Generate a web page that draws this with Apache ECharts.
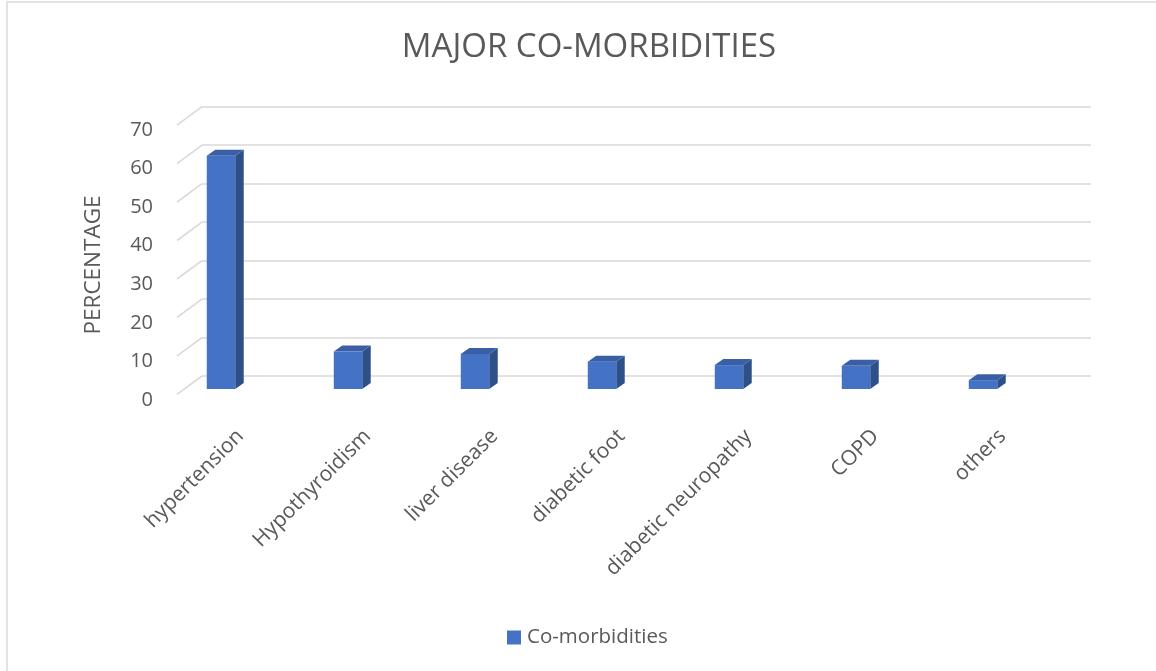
<!DOCTYPE html>
<html>
<head>
<meta charset="utf-8">
<script src="https://cdn.jsdelivr.net/npm/echarts@6/dist/echarts.min.js"></script>
<style>html,body{margin:0;padding:0;background:#fff}#c{width:1156px;height:671px}</style>
</head>
<body>
<div id="c"></div>
<script>
// ---- data ----
const categories = ['hypertension', 'Hypothyroidism', 'liver disease', 'diabetic foot', 'diabetic neuropathy', 'COPD', 'others'];
const values = [60.5, 9.7, 9.1, 7.1, 6.2, 6.0, 2.3];
const seriesName = 'Co-morbidities';
const yMin = 0, yMax = 70, yStep = 10;
const titleText = 'MAJOR CO-MORBIDITIES';
const yAxisTitle = 'PERCENTAGE';

// ---- style ----
const TXT = '#595959';
const FONT = 'Open Sans';
const GRID_C = '#D9D9D9';
const FRONT = '#4472C4', SIDE = '#2E5088', TOP = '#3A5FA6';
const DEPTH_DX = -25, DEPTH_DY = 18.4;   // back wall -> front plane
const BAR_DX = 8.5, BAR_DY = -6;          // bar depth

const ticks = [];
for (let v = yMin; v <= yMax; v += yStep) ticks.push(v);

const chart = echarts.init(document.getElementById('c'), null, {renderer: 'canvas'});
chart.setOption({
  backgroundColor: '#fff',
  animation: false,
  title: {
    text: titleText, left: 584, top: 26, textAlign: 'center',
    textStyle: {color: TXT, fontFamily: FONT, fontSize: 33, fontWeight: 'normal'}
  },
  legend: {
    data: [{name: seriesName, icon: 'rect'}],
    left: 502, top: 622, itemWidth: 14, itemHeight: 14, itemGap: 6,
    textStyle: {color: TXT, fontFamily: FONT, fontSize: 20.5, padding: [0,0,0,1]}
  },
  graphic: [{
    type: 'rect', shape: {x: 7, y: 2, width: 1200, height: 700},
    style: {fill: 'none', stroke: '#D9D9D9', lineWidth: 1.5}, silent: true, z: -10
  }],
  grid: [
    {left: 202, right: 65, top: 106.7, bottom: 295},      // back wall
    {left: 177, right: 90, top: 130, bottom: 271},        // front plane labels
    {left: 157.5, right: 109.5, top: 119.2, bottom: 282}  // bars
  ],
  xAxis: [
    {gridIndex: 0, type: 'value', min: 0, max: 1, show: false},
    {gridIndex: 1, type: 'category', data: categories,
      axisLine: {show: false}, axisTick: {show: false}, splitLine: {show: false},
      axisLabel: {interval: 0, rotate: 45, margin: 33, color: TXT, fontFamily: FONT, fontSize: 21}},
    {gridIndex: 2, type: 'category', data: categories, show: false}
  ],
  yAxis: [
    {gridIndex: 0, type: 'value', min: yMin, max: yMax, interval: yStep,
      axisLine: {show: false}, axisTick: {show: false}, axisLabel: {show: false},
      splitLine: {show: true, lineStyle: {color: GRID_C, width: 1.6}}},
    {gridIndex: 1, type: 'value', min: yMin, max: yMax, interval: yStep,
      axisLine: {show: false}, axisTick: {show: false}, splitLine: {show: false},
      axisLabel: {margin: 24, color: TXT, fontFamily: FONT, fontSize: 20},
      name: yAxisTitle, nameLocation: 'middle', nameGap: 72, nameRotate: 90,
      nameTextStyle: {color: TXT, fontFamily: FONT, fontSize: 22.5}},
    {gridIndex: 2, type: 'value', min: yMin, max: yMax, interval: yStep, show: false}
  ],
  series: [
    {
      type: 'custom', xAxisIndex: 0, yAxisIndex: 0, silent: true,
      data: ticks.map(t => [0, t]),
      renderItem(params, api) {
        const p = api.coord([0, api.value(1)]);
        return {type: 'line', shape: {x1: p[0], y1: p[1], x2: p[0] + DEPTH_DX, y2: p[1] + DEPTH_DY},
          style: {stroke: GRID_C, lineWidth: 1.6}};
      }
    },
    {
      type: 'custom', name: seriesName, xAxisIndex: 2, yAxisIndex: 2,
      itemStyle: {color: FRONT},
      data: values.map((v, i) => [i, v]),
      renderItem(params, api) {
        const i = api.value(0), v = api.value(1);
        const top = api.coord([i, v]);
        const base = api.coord([i, 0]);
        const w = api.size([1, 0])[0] * 0.224;
        const x0 = top[0] - w / 2, x1 = top[0] + w / 2;
        const yt = top[1], yb = base[1];
        return {type: 'group', children: [
          {type: 'polygon', shape: {points: [[x1, yt], [x1 + BAR_DX, yt + BAR_DY], [x1 + BAR_DX, yb + BAR_DY], [x1, yb]]},
            style: {fill: SIDE}},
          {type: 'polygon', shape: {points: [[x0, yt], [x0 + BAR_DX, yt + BAR_DY], [x1 + BAR_DX, yt + BAR_DY], [x1, yt]]},
            style: {fill: TOP}},
          {type: 'rect', shape: {x: x0, y: yt, width: w, height: yb - yt}, style: {fill: FRONT}}
        ]};
      }
    }
  ]
});
</script>
</body>
</html>
